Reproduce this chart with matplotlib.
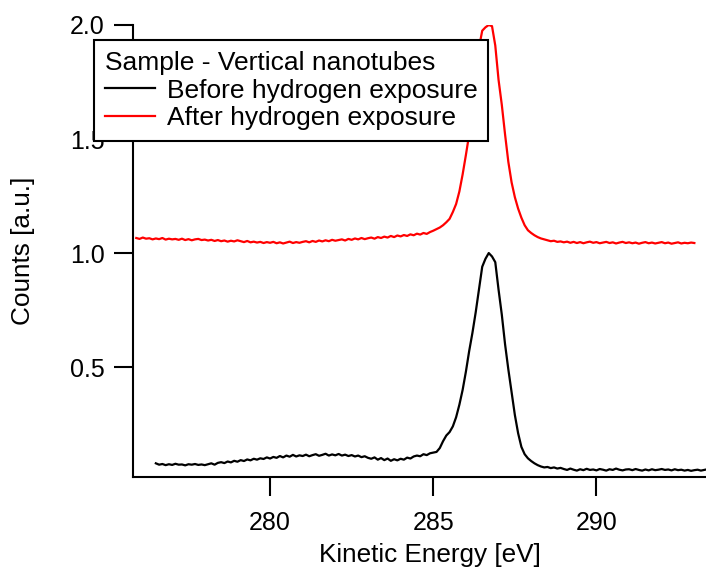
import numpy as np
import matplotlib.pyplot as plt

plt.rcParams['font.family'] = ['Liberation Sans', 'DejaVu Sans']

# energy grids (0.1 eV sampling)
e_before = np.round(np.arange(276.5, 294.05, 0.1), 2)
e_after = np.round(np.arange(275.9, 293.05, 0.1), 2)

# before hydrogen exposure, normalised counts
before = [
    0.078, 0.072, 0.075, 0.070, 0.074, 0.071, 0.076, 0.072, 0.073, 0.069,
    0.074, 0.072, 0.075, 0.071, 0.073, 0.070,
    0.074, 0.078, 0.072, 0.080, 0.083, 0.079, 0.086, 0.082, 0.089, 0.085,
    0.092, 0.088, 0.095, 0.091, 0.098, 0.094, 0.100, 0.097, 0.104, 0.099,
    0.106, 0.102, 0.110, 0.104, 0.112, 0.107, 0.115, 0.108, 0.113, 0.110,
    0.116, 0.109, 0.114, 0.118, 0.111, 0.115, 0.120, 0.112, 0.117, 0.113,
    0.119, 0.112, 0.116, 0.110, 0.114, 0.108, 0.112, 0.105, 0.109, 0.102,
    0.098, 0.104, 0.094, 0.101, 0.092, 0.099, 0.089, 0.096, 0.091, 0.098,
    0.094, 0.103, 0.099, 0.108, 0.112, 0.109, 0.118, 0.114, 0.122, 0.125,
    0.128, 0.145, 0.175, 0.200, 0.215, 0.240, 0.280, 0.335, 0.400, 0.480,
    0.570, 0.650, 0.740, 0.840, 0.940, 0.975, 1.000, 0.985, 0.960, 0.840,
    0.730, 0.600, 0.490, 0.390, 0.290, 0.210, 0.150, 0.118, 0.100, 0.088,
    0.078, 0.070, 0.064, 0.060, 0.062, 0.057, 0.060, 0.055, 0.058, 0.053,
    0.049, 0.055, 0.050, 0.046, 0.052, 0.048, 0.054, 0.049, 0.051, 0.047,
    0.053, 0.050, 0.046, 0.052, 0.049, 0.055, 0.050, 0.047, 0.051, 0.052,
    0.048, 0.053, 0.049, 0.046, 0.051, 0.047, 0.052, 0.048, 0.050, 0.053,
    0.049, 0.051, 0.047, 0.052, 0.048, 0.050, 0.046, 0.049, 0.045, 0.048,
    0.050, 0.046, 0.049, 0.052, 0.048, 0.051, 0.047, 0.050, 0.053, 0.049,
]

# after hydrogen exposure (offset by 1)
after = [
    1.066, 1.062, 1.068, 1.063, 1.065, 1.060, 1.064, 1.061, 1.066, 1.059,
    1.063, 1.060,
    1.062, 1.058, 1.063, 1.057, 1.061, 1.056, 1.060, 1.062, 1.057, 1.059,
    1.055, 1.058, 1.053, 1.057, 1.052, 1.055, 1.050, 1.054, 1.051, 1.056,
    1.052, 1.048, 1.053, 1.047, 1.050, 1.046, 1.049, 1.044, 1.048, 1.045,
    1.049, 1.043, 1.047, 1.042, 1.046, 1.050, 1.044, 1.048, 1.045, 1.049,
    1.052, 1.047, 1.053, 1.049, 1.055, 1.051, 1.056, 1.052, 1.058, 1.054,
    1.057, 1.060, 1.055, 1.062, 1.058, 1.064, 1.060, 1.066, 1.061, 1.065,
    1.068, 1.063, 1.070, 1.066, 1.072, 1.068, 1.075, 1.070, 1.077, 1.073,
    1.079, 1.075, 1.082, 1.078, 1.085, 1.081, 1.088, 1.084, 1.092, 1.098,
    1.105, 1.112, 1.122, 1.135, 1.150, 1.180, 1.215, 1.270, 1.345, 1.430,
    1.520, 1.640, 1.770, 1.900, 1.975, 1.990, 2.000, 1.995, 1.910, 1.760,
    1.650, 1.520, 1.400, 1.310, 1.245, 1.195, 1.155, 1.122, 1.100, 1.088,
    1.078, 1.070, 1.064, 1.060, 1.056, 1.052, 1.054, 1.049, 1.051, 1.047,
    1.050, 1.045, 1.049, 1.044, 1.048, 1.043, 1.047, 1.050, 1.045, 1.048,
    1.043, 1.046, 1.049, 1.044, 1.047, 1.042, 1.046, 1.049, 1.044, 1.047,
    1.043, 1.046, 1.041, 1.045, 1.048, 1.043, 1.046, 1.042, 1.045, 1.048,
    1.043, 1.046, 1.041, 1.044, 1.047, 1.042, 1.045, 1.043, 1.046, 1.044,
]

n = min(len(e_before), len(before))
m = min(len(e_after), len(after))

fig = plt.figure(figsize=(7.06, 5.69), dpi=100)
# plot area runs a little past the right edge of the image
ax = fig.add_axes([133 / 706, 92 / 569, 594 / 706, 452 / 569])

ax.plot(e_before[:n], before[:n], color='black', lw=1.6, label='Before hydrogen exposure')
ax.plot(e_after[:m], after[:m], color='red', lw=1.6, label='After hydrogen exposure')

ax.set_xlim(275.8, 294.0)
ax.set_ylim(0.018, 2.0)
ax.set_xticks([280, 285, 290])
ax.set_yticks([0.5, 1.0, 1.5, 2.0])
ax.set_yticklabels(['0.5', '1.0', '1.5', '2.0'])

for s in ['top', 'right']:
    ax.spines[s].set_visible(False)
for s in ['left', 'bottom']:
    ax.spines[s].set_linewidth(1.5)
ax.tick_params(direction='out', length=13.5, width=1.5, labelsize=18, pad=7)
ax.tick_params(axis='x', pad=11)

ax.set_xlabel('Kinetic Energy [eV]', fontsize=18.8, labelpad=6)
ax.set_ylabel('Counts [a.u.]', fontsize=18.8, labelpad=25)

leg = ax.legend(title='Sample - Vertical nanotubes', loc='upper left',
                bbox_to_anchor=(94 / 706, 1 - 40 / 569), bbox_transform=fig.transFigure,
                borderaxespad=0, fontsize=19, title_fontsize=19,
                fancybox=False, framealpha=1, edgecolor='black',
                handlelength=1.9, handletextpad=0.45, labelspacing=0.15,
                borderpad=0.4, alignment='left')
leg.get_frame().set_linewidth(1.5)

fig.savefig('out.png', dpi=100)
